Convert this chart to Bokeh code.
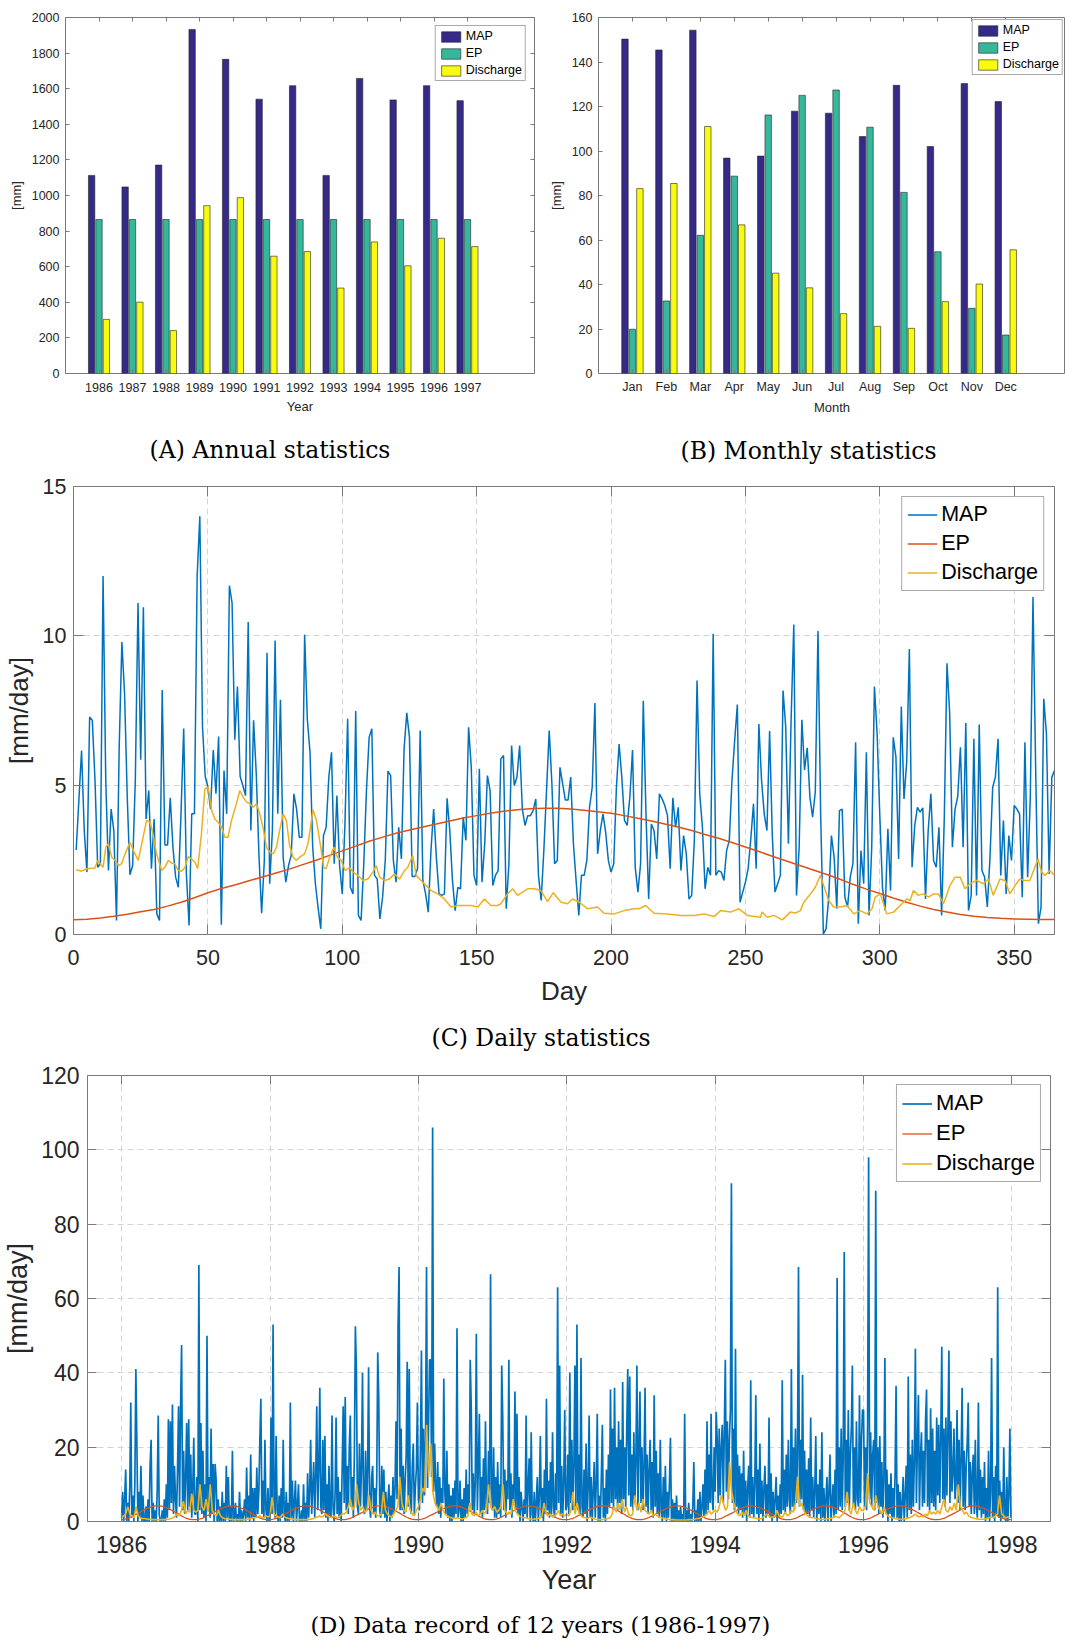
import numpy as np
from bokeh.plotting import figure
from bokeh.models import Range1d, FixedTicker, LinearAxis, Title, ColumnDataSource
from bokeh.layouts import column, row
from bokeh.transform import dodge
from bokeh.embed import file_html
from bokeh.resources import INLINE

# ---------------- Panel A : annual statistics ----------------
years = [1986, 1987, 1988, 1989, 1990, 1991, 1992, 1993, 1994, 1995, 1996, 1997]
annual_map = [1113, 1048, 1171, 1933, 1765, 1541, 1617, 1113, 1658, 1537, 1617, 1533]
annual_ep = [865, 865, 865, 865, 865, 865, 865, 865, 865, 865, 865, 865]
annual_dis = [304, 401, 241, 943, 988, 659, 685, 480, 739, 605, 760, 713]

# ---------------- Panel B : monthly statistics ----------------
months = ["Jan", "Feb", "Mar", "Apr", "May", "Jun", "Jul", "Aug", "Sep", "Oct", "Nov", "Dec"]
month_pos = [1, 2, 3, 4, 5, 6, 7, 8, 9, 10, 11, 12]
monthly_map = [150.3, 145.4, 154.3, 96.8, 97.7, 117.9, 117.0, 106.5, 129.5, 102.0, 130.3, 122.2]
monthly_ep = [19.9, 32.6, 62.1, 88.7, 116.2, 125.0, 127.4, 110.7, 81.4, 54.7, 29.3, 17.3]
monthly_dis = [83.1, 85.4, 111.0, 66.8, 45.1, 38.5, 26.9, 21.2, 20.3, 32.3, 40.2, 55.6]

# ---------------- Panel C : daily statistics ----------------
map_daily = [
    2.83, 4.5, 6.16, 3.48, 2.09, 7.28, 7.17, 5.16, 2.25, 2.37,
    12.0, 5.16, 2.14, 4.2, 3.48, 0.47, 6.27, 9.79, 8.06, 4.6,
    2.0, 2.31, 5.16, 11.1, 5.85, 10.96, 3.87, 4.82, 2.2, 3.87,
    0.69, 0.47, 8.19, 3.0, 3.0, 4.58, 2.92, 1.92, 1.58, 4.04,
    6.9, 2.03, 0.3, 4.04, 4.04, 12.0, 14.0, 6.94, 5.3, 4.93,
    4.2, 6.18, 4.71, 6.63, 0.33, 5.49, 4.04, 11.68, 11.1, 6.52,
    8.3, 5.3, 4.99, 4.65, 10.46, 3.48, 7.17, 5.38, 2.65, 0.71,
    2.48, 9.43, 1.7, 3.48, 9.84, 4.04, 7.86, 2.59, 1.75, 2.31,
    2.65, 4.71, 4.2, 3.26, 3.26, 10.04, 7.2, 6.1, 2.92, 1.7,
    0.9, 0.19, 3.31, 3.59, 5.27, 6.1, 2.37, 4.65, 2.31, 1.36,
    3.7, 7.22, 1.58, 1.36, 7.48, 0.64, 0.47, 2.37, 4.82, 6.6,
    6.89, 1.98, 1.86, 0.52, 1.25, 2.48, 5.47, 5.32, 2.48, 1.75,
    3.59, 2.53, 6.22, 7.42, 6.6, 1.94, 1.94, 2.2, 6.83, 1.81,
    1.36, 0.75, 2.81, 4.2, 2.59, 1.36, 1.31, 1.36, 4.56, 3.48,
    1.81, 0.8, 1.58, 1.53, 3.93, 3.15, 6.94, 5.6, 1.98, 1.64,
    5.55, 1.75, 3.04, 5.32, 4.82, 1.64, 1.98, 2.14, 5.88, 5.99,
    0.86, 2.37, 6.33, 4.99, 5.27, 6.33, 4.2, 3.65, 3.98, 3.98,
    4.15, 4.54, 1.98, 1.14, 2.81, 4.82, 6.83, 5.04, 2.37, 2.48,
    5.6, 5.04, 4.5, 4.5, 5.27, 3.04, 1.81, 0.64, 1.98, 1.98,
    2.48, 4.26, 4.93, 7.75, 2.7, 3.48, 4.04, 3.43, 2.48, 2.09,
    2.37, 4.93, 6.38, 5.27, 3.82, 3.65, 4.6, 6.18, 2.25, 1.42,
    2.37, 7.83, 4.04, 1.19, 3.7, 3.48, 2.53, 4.71, 4.54, 4.32,
    3.98, 2.2, 4.58, 3.59, 4.26, 2.14, 3.31, 2.7, 1.19, 1.31,
    3.15, 8.5, 4.71, 3.59, 1.53, 2.25, 1.98, 10.07, 1.98, 2.14,
    2.09, 1.81, 2.81, 3.15, 5.16, 6.5, 7.7, 1.08, 1.42, 1.75,
    2.2, 3.2, 4.38, 2.2, 7.05, 5.16, 4.04, 3.48, 6.81, 3.31,
    1.42, 1.7, 1.98, 8.17, 6.94, 3.04, 7.2, 10.38, 1.31, 2.92,
    7.19, 5.51, 6.25, 4.6, 3.93, 4.77, 10.16, 4.0, 0.02, 0.19,
    1.25, 3.31, 2.59, 0.86, 4.15, 4.2, 1.25, 0.92, 1.92, 2.37,
    6.44, 0.36, 2.81, 1.7, 6.1, 0.64, 2.92, 8.3, 6.72, 3.98,
    1.58, 0.8, 3.54, 1.47, 6.6, 5.94, 2.53, 7.63, 4.54, 5.77,
    9.56, 2.25, 3.65, 4.26, 4.1, 4.24, 1.19, 3.48, 4.71, 2.48,
    2.25, 3.59, 0.64, 3.93, 9.08, 7.39, 2.92, 4.2, 4.62, 6.27,
    2.92, 7.08, 0.8, 1.31, 6.55, 1.31, 7.03, 2.14, 1.92, 0.92,
    2.59, 4.93, 5.27, 6.55, 1.98, 3.82, 1.36, 3.31, 2.48, 4.32,
    4.2, 4.04, 1.25, 6.44, 1.92, 4.6, 11.3, 5.5, 0.36, 0.92,
    7.89, 6.72, 2.03, 5.27, 5.49,
]
ep_days = list(range(0, 366, 5))
ep_daily = [0.49, 0.51, 0.55, 0.61, 0.68, 0.76, 0.84, 0.95, 1.08, 1.23,
            1.4, 1.54, 1.66, 1.79, 1.92, 2.05, 2.18, 2.33, 2.48, 2.64,
            2.8, 2.96, 3.12, 3.26, 3.39, 3.5, 3.6, 3.7, 3.8, 3.9,
            3.98, 4.06, 4.13, 4.18, 4.21, 4.23, 4.23, 4.2, 4.16, 4.11,
            4.06, 3.98, 3.89, 3.8, 3.7, 3.6, 3.48, 3.35, 3.22, 3.08,
            2.93, 2.78, 2.62, 2.47, 2.32, 2.17, 2.02, 1.86, 1.68, 1.52,
            1.37, 1.22, 1.08, 0.95, 0.84, 0.75, 0.67, 0.61, 0.57, 0.54,
            0.52, 0.51, 0.5, 0.5]
dis_days = [1, 3, 5, 8, 9, 11, 12, 13, 14.2, 15.5, 16.7, 17.9, 19.2, 21, 22.3, 24.1, 25.4, 27.2, 28.5, 29.7,
            30.9, 32.8, 34, 35.3, 36.5, 37.7, 39, 40.2, 41.5, 42.7, 43.9, 45.2, 46.2, 47.6, 48.9, 50.1, 51.4,
            52.6, 53.8, 55.1, 56.3, 57.5, 58.8, 60.6, 61.9, 63.1, 64.4, 65.6, 66.8, 68.1, 69.3, 70.5, 71.8, 73,
            74.3, 75.5, 76.7, 78, 79.2, 80.4, 81.7, 82.9, 84.2, 86, 87.3, 89.1, 90.4, 92, 93.1, 94, 95.3, 96.9,
            98.2, 99.6, 101.1, 102.7, 104, 105.8, 107.7, 109.5, 111.4, 112.6, 113.9, 115.7, 117.6, 119.4, 121.3,
            123.2, 124.4, 126.2, 127.5, 129.3, 131.2, 133.1, 135.5, 138, 140.5, 143, 145.4, 147.9, 150.4, 152.9,
            155.3, 157.8, 159, 161.5, 163.4, 165.2, 167.1, 169, 171.4, 173.9, 176.4, 178.5, 181.4, 183.8, 185.7,
            188.2, 191.3, 195, 197.4, 201.2, 204.9, 208.6, 210.4, 212.9, 216, 221, 225.9, 230.9, 234.6, 238.3,
            240.8, 244.5, 247.6, 250.7, 255.6, 256.2, 258.1, 260.6, 263.7, 266.7, 268.6, 270.5, 271.7, 274.2,
            276, 277.9, 279.1, 281, 282.8, 285.3, 287.8, 290.3, 292.7, 295.2, 297.1, 298.3, 300.2, 302.6, 305.1,
            307.6, 310, 311.3, 312.5, 314.4, 316.2, 318.1, 320, 321.8, 323.7, 326.1, 328, 329.9, 331.7, 333.6,
            336, 338.5, 340.4, 342.2, 344.7, 346.6, 348.4, 350.3, 352.1, 354, 355.8, 357.7, 358.9, 360.2, 361.4,
            363.3, 365]
dis_daily = [2.17, 2.12, 2.2, 2.23, 2.48, 2.25, 2.92, 3.04, 2.59, 2.48, 2.31, 2.37, 2.7, 3.09, 2.81, 2.48, 3.04,
             3.82, 3.76, 3.31, 2.7, 2.14, 2.25, 2.48, 2.39, 2.37, 2.14, 2.12, 2.25, 2.61, 2.53, 2.42, 2.2, 3.37,
             4.88, 4.93, 4.15, 3.87, 3.76, 3.59, 3.26, 3.26, 3.82, 4.38, 4.82, 4.6, 4.43, 4.38, 4.26, 4.38, 4.04,
             3.59, 2.92, 2.76, 2.7, 2.92, 3.48, 4.04, 3.82, 2.98, 2.59, 2.48, 2.59, 2.7, 3.06, 4.18, 3.82, 2.92,
             2.25, 2.2, 2.59, 2.92, 2.59, 2.48, 2.14, 2.25, 2.09, 1.98, 1.81, 1.86, 2.09, 2.31, 1.92, 1.81, 1.86,
             2.03, 1.86, 2.14, 2.25, 2.65, 1.98, 1.81, 1.64, 1.47, 1.36, 1.19, 0.92, 0.97, 0.97, 0.97, 0.92, 1.19,
             0.97, 0.97, 1.03, 1.36, 1.53, 1.31, 1.42, 1.53, 1.53, 1.47, 1.1, 1.4, 1.08, 1.03, 1.19, 1.08, 0.86,
             0.92, 0.71, 0.69, 0.8, 0.86, 0.86, 0.97, 0.71, 0.69, 0.64, 0.64, 0.69, 0.6, 0.8, 0.75, 0.86, 0.64,
             0.58, 0.75, 0.58, 0.64, 0.49, 0.75, 0.72, 0.8, 1.08, 1.36, 1.58, 1.98, 1.64, 1.14, 0.92, 0.92, 0.97,
             0.69, 0.8, 0.69, 0.86, 1.25, 1.36, 0.69, 0.75, 0.97, 1.19, 1.14, 1.47, 1.31, 1.36, 1.25, 1.36, 1.36,
             1.03, 1.64, 1.92, 1.92, 1.53, 1.7, 1.81, 1.7, 1.86, 1.31, 1.86, 1.81, 1.36, 1.64, 1.86, 1.81, 1.81,
             2.25, 2.53, 2.09, 1.98, 2.14, 1.98]

# ---------------- Panel D : 12-year record (5-day MAP, 10-day discharge) ----------------
map_1986 = [1, 8, 0, 6, 14, 0, 5, 0, 9, 32, 1, 7, 0, 10, 41, 21, 0, 8, 1, 15, 0, 7, 0, 0, 4, 0, 6, 0, 15, 22,
            0, 5, 0, 3, 0, 8, 28.5, 2, 0, 0, 3, 0, 6, 0, 10, 1, 27.5, 3, 27, 5, 31.5, 2, 15, 6, 1, 14, 31, 4,
            31, 47.5, 3, 19, 2, 12, 26.5, 3, 27.5, 4, 18, 1, 9, 22.5, 2]
map_1987 = [2, 12, 0, 69, 3, 26.5, 2, 19, 1, 10, 0, 50, 3, 12, 1, 25, 2, 15.5, 0, 15.5, 11, 0, 6, 0, 4, 0, 8,
            0, 5, 0, 15, 1, 12, 0, 4, 0, 19, 0, 1, 5, 0, 2, 0, 8, 0, 3, 0, 2, 6, 0, 14.5, 1, 7, 0, 18, 1, 9, 0,
            9, 1, 14.5, 2, 8, 22, 33, 2, 11, 1, 22, 3, 0, 9, 0]
map_1988 = [3, 28, 2, 53, 5, 1, 23, 3, 0, 7, 0, 9, 1, 22, 2, 0, 8, 0, 5, 0, 32, 1, 11, 0, 5, 11, 0, 4, 10, 0,
            0, 3, 0, 10, 0, 5, 0, 13, 1, 8, 22, 2, 9, 16, 1, 12, 31, 3, 14, 36, 4, 2, 22, 3, 23, 1, 10, 0, 15,
            2, 1, 28.5, 4, 0, 7, 28, 2, 12, 1, 8, 0, 14, 31]
map_1989 = [5, 33.5, 3, 15, 2, 20, 28.5, 4, 12, 1, 18, 52.5, 41, 4, 2, 21, 4, 14, 40, 5, 2, 19, 3, 13, 41.5,
            4, 1, 12, 15, 2, 9, 1, 11, 45.5, 33, 3, 1, 15, 2, 14, 1, 8, 0, 5, 10, 0, 7, 1, 12, 2, 9, 27, 6,
            52.5, 68.5, 3, 25, 3, 15, 2, 11, 18, 43, 4, 41, 6, 2, 15, 21, 2, 9, 14, 32]
map_1990 = [6, 3, 20, 46, 5, 25, 7, 22, 68.5, 9, 26, 43.5, 43.5, 12, 106, 8, 21, 10, 4, 16, 2, 12, 1, 9,
            5, 38.5, 8, 2, 19, 1, 10, 0, 7, 0, 9, 1, 11, 2, 52, 1, 3, 11, 0, 6, 0, 9, 1, 14, 2, 10, 4, 43.5,
            31, 3, 13, 2, 11, 50.5, 3, 15, 29, 2, 12, 1, 17, 3, 27, 4, 2, 19, 5, 66.5, 9]
map_1991 = [3, 20, 1, 12, 1, 16, 2, 10, 1, 42, 28, 3, 14, 1, 11, 6, 43.5, 3, 13, 1, 10, 5, 35, 3, 29, 2, 12,
            0, 8, 4, 0, 6, 2, 28.5, 1, 9, 17, 0, 24, 2, 0, 8, 0, 5, 12, 0, 7, 23, 1, 9, 0, 14, 2, 33, 3, 11,
            1, 16, 2, 24, 4, 1, 13, 3, 63, 5, 42, 2, 15, 1, 10, 30, 3]
map_1992 = [4, 18, 2, 40, 5, 22, 3, 15, 42, 4, 53, 3, 18, 2, 44, 4, 1, 14, 2, 21, 0, 9, 28.5, 1, 12, 0, 8,
            16, 1, 10, 29, 0, 7, 0, 12, 26, 1, 9, 0, 14, 2, 18, 4, 35.5, 5, 25, 3, 36, 6, 20, 3, 27, 5, 22,
            2, 37.5, 6, 20, 4, 25, 41, 7, 39, 4, 18, 3, 24, 5, 16, 42, 3, 20, 35]
map_1993 = [5, 20, 3, 15, 36, 4, 18, 2, 14, 22, 3, 16, 1, 34, 4, 19, 2, 13, 1, 22, 3, 0, 12, 1, 15, 0, 8, 1,
            10, 22.5, 0, 6, 0, 5, 0, 7, 0, 3, 0, 4, 0, 2, 0, 29, 0, 3, 0, 5, 0, 2, 0, 4, 16, 0, 3, 0, 6, 0, 8,
            0, 4, 10, 1, 14, 2, 27, 3, 18, 5, 29, 6, 3, 20]
map_1994 = [8, 29.5, 22, 5, 25, 7, 20, 26, 5, 24, 43.5, 8, 27, 6, 22, 30, 91, 5, 25, 3, 46.5, 4, 18, 2,
            15, 3, 13, 1, 19, 2, 11, 0, 9, 15, 1, 38, 2, 12, 1, 10, 34, 2, 14, 0, 21, 2, 11, 0, 9, 15, 1, 10,
            2, 28, 1, 13, 0, 8, 1, 6, 12, 0, 7, 1, 10, 2, 38, 3, 14, 2, 18, 4, 22]
map_1995 = [6, 2, 41, 4, 20, 3, 25, 5, 18, 68.5, 4, 22, 6, 39.5, 3, 19, 2, 14, 2, 17, 1, 28, 3, 12, 1, 8,
            23, 0, 10, 2, 14, 0, 24, 1, 9, 0, 6, 12, 0, 8, 18, 0, 5, 10, 1, 14, 2, 65.5, 3, 20, 4, 25, 3, 17,
            72.5, 4, 22, 5, 30, 3, 18, 25, 42, 4, 20, 3, 27, 6, 4, 34, 5, 22, 30]
map_1996 = [30, 4, 20, 3, 26, 98, 6, 24, 4, 18, 22, 3, 89, 5, 20, 2, 23, 4, 16, 1, 11, 44, 2, 14, 0, 10, 2,
            13, 0, 9, 1, 12, 36.5, 1, 10, 0, 8, 0, 5, 12, 0, 7, 15, 1, 39, 3, 18, 2, 22, 4, 16, 46.5, 5, 20,
            34, 3, 17, 24, 4, 19, 5, 27, 35.5, 4, 22, 3, 30.5, 5, 25, 4, 19, 3, 28]
map_1997 = [7, 26, 5, 22, 47, 6, 25, 4, 28, 7, 24, 46, 5, 27, 8, 13, 25, 6, 10, 30, 5, 22, 3, 17, 36,
            4, 19, 3, 15, 21, 32, 4, 16, 2, 13, 18, 2, 22, 4, 1, 32, 3, 14, 1, 12, 2, 16, 0, 9, 1, 19, 0, 8,
            44, 1, 12, 0, 15, 2, 63, 1, 11, 0, 8, 1, 20, 2, 0, 12, 0, 7, 25, 1]

dis_1986 = [1, 1.5, 2, 4, 2, 1.5, 1, 4, 1.5, 1, 0.8, 0.8, 0.7, 0.6, 0.6, 0.5, 0.5, 0.5, 0.5, 0.5, 0.5, 0.5, 0.6,
            0.6, 0.8, 1, 1.5, 2, 1.5, 3, 5.5, 2, 3, 2.5, 7.5, 3]
dis_1987 = [2.5, 3, 10, 4, 3, 6, 2.5, 10, 3, 2, 1.5, 3, 1.5, 1, 0.8, 0.7, 0.6, 0.6, 0.5, 0.5, 0.5, 0.5, 0.5, 0.5,
            0.5, 0.6, 0.7, 0.8, 1, 1, 1.2, 1.5, 1.2, 1, 1.5, 1.2]
dis_1988 = [1.5, 6.5, 2, 1.5, 1.2, 1, 2, 1.2, 1, 0.8, 0.7, 0.6, 0.6, 0.5, 0.5, 0.5, 0.5, 0.5, 0.5, 0.6, 0.6, 0.8,
            1, 1.2, 1.5, 1.2, 1.5, 2, 1.5, 1.2, 1, 1.5, 1.2, 1, 1.5, 2]
dis_1989 = [2, 2.5, 4, 6, 3, 4, 10, 5, 3, 4, 2.5, 3, 7, 3, 2, 2.5, 1.5, 1.5, 2, 8, 3, 2, 1.5, 1.2, 2, 3, 4, 12, 5,
            3, 2.5, 7, 3, 2, 1.5, 3]
dis_1990 = [4, 6, 9, 8, 26, 12, 21, 8, 5, 4, 3, 5, 3, 2, 1.5, 1.2, 1, 0.8, 0.8, 1, 0.8, 0.7, 0.8, 1, 1.5, 5, 2,
            1.5, 2.5, 1.5, 2, 3, 2, 3, 10, 4]
dis_1991 = [3, 4, 2.5, 3, 4, 10, 3, 2, 2.5, 2, 6, 3, 2, 1.5, 1.2, 1, 1, 0.8, 0.7, 0.6, 0.6, 0.7, 0.8, 1, 1.5, 5,
            2, 1.5, 2, 1.2, 1.5, 2, 3, 1.5, 2, 1.5]
dis_1992 = [2, 1.5, 3, 8, 2, 5, 2, 1.5, 1.2, 1, 0.8, 1.2, 1, 0.8, 0.6, 0.5, 0.5, 0.5, 0.6, 0.6, 0.8, 1, 2, 4, 2.5,
            5, 3, 6, 2.5, 4, 2, 1.5, 2, 7, 3, 5]
dis_1993 = [2.5, 6, 3, 2.5, 2, 3, 1.5, 2, 1.5, 1.2, 1, 0.8, 0.7, 0.6, 0.5, 0.5, 0.5, 0.4, 0.4, 0.4, 0.4, 0.4,
            0.4, 0.5, 0.5, 0.5, 0.6, 0.8, 0.8, 1, 1.2, 1.5, 2, 3, 2, 2.5]
dis_1994 = [3, 2.5, 4, 7, 5, 3, 4, 16, 8, 5, 3, 2, 1.5, 2.5, 1.5, 3, 1.5, 1.2, 1, 1, 0.8, 0.7, 0.8, 1, 1.5, 2,
            1.5, 1, 1.2, 1.5, 3, 1.5, 1.2, 1.5, 2.5, 1.5]
dis_1995 = [2, 3, 2.5, 5, 12, 4, 5, 3, 2, 1.5, 1.2, 1, 1, 0.8, 0.7, 0.6, 0.6, 0.6, 0.7, 0.8, 0.8, 1, 1.5, 1.2, 1,
            1.5, 2, 3, 8, 3, 2, 5, 3, 2, 4, 3]
dis_1996 = [3, 4, 13, 5, 4, 3, 7, 4, 3, 2, 4, 2, 1.5, 1.2, 1, 0.8, 0.7, 0.6, 0.6, 0.6, 0.7, 0.8, 1, 1.2, 1.5, 2,
            1.5, 1.2, 1.5, 1.2, 2, 1.5, 3, 2, 2.5, 2]
dis_1997 = [3, 2, 4, 6, 3, 2.5, 4, 3, 5, 3, 10, 4, 3, 2, 2.5, 1.5, 1.2, 1, 0.8, 0.7, 0.6, 0.6, 0.6, 0.7, 0.8, 1,
            1.2, 1, 1.5, 2, 7, 2, 1.5, 1, 1.2, 1]

# ---------------- styling ----------------
C_MAP_BAR, C_EP_BAR, C_DIS_BAR = "#352A87", "#35B79B", "#F9FB0E"
C_MAP, C_EP, C_DIS = "#0072BD", "#D95319", "#EDB120"
FRAME = "#7a7a7a"
TXT = "#262626"
SANS = "Liberation Sans"
SERIF = "DejaVu Serif"


def style_axis(ax, size, tick_in, standoff):
    ax.axis_line_color = None
    ax.major_tick_in = tick_in
    ax.major_tick_out = 0
    ax.minor_tick_line_color = None
    ax.major_tick_line_color = FRAME
    ax.major_label_text_font = SANS
    ax.major_label_text_font_size = f"{size}px"
    ax.major_label_text_color = TXT
    ax.major_label_standoff = int(standoff)


def style_label(ax, text, size, standoff):
    ax.axis_label = text
    ax.axis_label_text_font = SANS
    ax.axis_label_text_font_size = f"{size}px"
    ax.axis_label_text_font_style = "normal"
    ax.axis_label_text_color = TXT
    ax.axis_label_standoff = int(standoff)


def mirror(p, side, ticks, tick_in):
    ax = LinearAxis(ticker=FixedTicker(ticks=ticks))
    ax.axis_line_color = None
    ax.major_tick_in = tick_in
    ax.major_tick_out = 0
    ax.minor_tick_line_color = None
    ax.major_tick_line_color = FRAME
    ax.major_label_text_font_size = "1px"
    ax.major_label_text_color = None
    ax.major_label_standoff = 0
    p.add_layout(ax, side)


def caption(p, text, offset, gap, anchor, size=23.5):
    # spacer axis: one white (invisible) outward tick that opens a gap under the x-axis label
    sp = LinearAxis(ticker=FixedTicker(ticks=[anchor]))
    sp.axis_line_color = None
    sp.major_tick_in = 0
    sp.major_tick_out = int(gap)
    sp.minor_tick_line_color = None
    sp.major_tick_line_color = "white"
    sp.major_label_text_font_size = "1px"
    sp.major_label_text_color = None
    sp.major_label_standoff = 0
    p.add_layout(sp, "below")
    t = Title(text=text, align="left", offset=offset, standoff=0,
              text_font=SERIF, text_font_size=f"{size}px", text_font_style="normal",
              text_color="#000000")
    p.add_layout(t, "below")


def base(p):
    p.outline_line_color = FRAME
    p.outline_line_width = 1
    p.background_fill_color = "white"
    p.border_fill_color = "white"


def bar_legend(p, margin):
    lg = p.legend[0]
    lg.location = "top_right"
    lg.margin = margin
    lg.padding = 3
    lg.spacing = 3
    lg.glyph_width = 24
    lg.glyph_height = 13
    lg.label_height = 13
    lg.label_standoff = 3
    lg.label_text_font = SANS
    lg.label_text_font_size = "12.5px"
    lg.label_text_color = "#000000"
    lg.border_line_color = "#555555"
    lg.border_line_width = 1
    lg.background_fill_alpha = 1


def line_legend(p, size, margin):
    lg = p.legend[0]
    lg.location = "top_right"
    lg.margin = margin
    lg.padding = 5
    lg.spacing = 4
    lg.glyph_width = 30
    lg.glyph_height = 25
    lg.label_height = 25
    lg.label_standoff = 4
    lg.label_text_font = SANS
    lg.label_text_font_size = f"{size}px"
    lg.label_text_color = "#000000"
    lg.border_line_color = "#555555"
    lg.border_line_width = 1
    lg.background_fill_alpha = 1


# ---------------- Figure A ----------------
srcA = ColumnDataSource(dict(x=years, MAP=annual_map, EP=annual_ep, DIS=annual_dis))
pA = figure(width=545, height=470, x_range=Range1d(1985, 1999), y_range=Range1d(0, 2000),
            output_backend="svg", toolbar_location=None,
            min_border_left=65, min_border_right=11, min_border_top=17, min_border_bottom=97)
base(pA)
for key, off, col, lab in [("MAP", -0.22, C_MAP_BAR, "MAP"), ("EP", 0.0, C_EP_BAR, "EP"),
                           ("DIS", 0.22, C_DIS_BAR, "Discharge")]:
    pA.vbar(x=dodge("x", off, range=pA.x_range), top=key, width=0.19, source=srcA,
            fill_color=col, line_color="#222222", line_width=0.6, legend_label=lab)
pA.grid.visible = False
pA.xaxis.ticker = FixedTicker(ticks=years)
pA.yaxis.ticker = FixedTicker(ticks=list(range(0, 2001, 200)))
style_axis(pA.xaxis[0], 12.5, 4, 9)
style_axis(pA.yaxis[0], 12.5, 4, 6)
style_label(pA.xaxis[0], "Year", 13, 4)
style_label(pA.yaxis[0], "[mm]", 13, 5)
mirror(pA, "above", years, 4)
mirror(pA, "right", list(range(0, 2001, 200)), 4)
bar_legend(pA, 8)
caption(pA, "(A) Annual statistics", 84, 17, 1985)

# ---------------- Figure B ----------------
srcB = ColumnDataSource(dict(x=month_pos, MAP=monthly_map, EP=monthly_ep, DIS=monthly_dis))
pB = figure(width=520, height=470, x_range=Range1d(0, 13.76), y_range=Range1d(0, 160),
            output_backend="svg", toolbar_location=None,
            min_border_left=52, min_border_right=0, min_border_top=17, min_border_bottom=97)
base(pB)
for key, off, col, lab in [("MAP", -0.22, C_MAP_BAR, "MAP"), ("EP", 0.0, C_EP_BAR, "EP"),
                           ("DIS", 0.22, C_DIS_BAR, "Discharge")]:
    pB.vbar(x=dodge("x", off, range=pB.x_range), top=key, width=0.19, source=srcB,
            fill_color=col, line_color="#222222", line_width=0.6, legend_label=lab)
pB.grid.visible = False
pB.xaxis.ticker = FixedTicker(ticks=month_pos)
pB.xaxis.major_label_overrides = {m: n for m, n in zip(month_pos, months)}
pB.yaxis.ticker = FixedTicker(ticks=list(range(0, 161, 20)))
style_axis(pB.xaxis[0], 12.5, 4, 6)
style_axis(pB.yaxis[0], 12.5, 4, 6)
style_label(pB.xaxis[0], "Month", 13, 3)
style_label(pB.yaxis[0], "[mm]", 13, 5)
mirror(pB, "above", month_pos, 4)
bar_legend(pB, 2)
caption(pB, "(B) Monthly statistics", 82, 17, 0)

# ---------------- Figure C ----------------
pC = figure(width=1065, height=590, x_range=Range1d(0, 365), y_range=Range1d(0, 15),
            output_backend="svg", toolbar_location=None,
            min_border_left=71, min_border_right=11, min_border_top=16, min_border_bottom=126)
base(pC)
days = list(range(1, len(map_daily) + 1))
pC.line(days, map_daily, line_color=C_MAP, line_width=1.5, legend_label="MAP")
pC.line(ep_days, ep_daily, line_color=C_EP, line_width=1.5, legend_label="EP")
pC.line(dis_days, dis_daily, line_color=C_DIS, line_width=1.5, legend_label="Discharge")
xtC = list(range(0, 351, 50))
ytC = [0, 5, 10, 15]
pC.xaxis.ticker = FixedTicker(ticks=xtC)
pC.yaxis.ticker = FixedTicker(ticks=ytC)
for g in (pC.xgrid[0], pC.ygrid[0]):
    g.grid_line_color = "#d4d4d4"
    g.grid_line_dash = "6 4"
    g.grid_line_width = 1
style_axis(pC.xaxis[0], 21.5, 10, 15)
style_axis(pC.yaxis[0], 21.5, 10, 7)
style_label(pC.xaxis[0], "Day", 26, 8)
style_label(pC.yaxis[0], "[mm/day]", 26, 6)
mirror(pC, "above", xtC, 10)
mirror(pC, "right", ytC, 10)
line_legend(pC, 21.5, 10)
caption(pC, "(C) Daily statistics", 358, 13, 0)

# ---------------- Figure D ----------------
map_years = [map_1986, map_1987, map_1988, map_1989, map_1990, map_1991,
             map_1992, map_1993, map_1994, map_1995, map_1996, map_1997]
dis_years = [dis_1986, dis_1987, dis_1988, dis_1989, dis_1990, dis_1991,
             dis_1992, dis_1993, dis_1994, dis_1995, dis_1996, dis_1997]
xm, ym, xd, yd, xe, ye = [], [], [], [], [], []
for y0, vals in zip(years, map_years):
    n = len(vals)
    xm += [y0 + k / n for k in range(n)]
    ym += vals
for y0, vals in zip(years, dis_years):
    n = len(vals)
    xd += [y0 + k / n for k in range(n)]
    yd += vals
for y0 in years:
    xe += [y0 + d / 365.0 for d in ep_days[:-1]]
    ye += ep_daily[:-1]

pD = figure(width=1065, height=582, x_range=Range1d(1985.54, 1998.52), y_range=Range1d(0, 120),
            output_backend="svg", toolbar_location=None,
            min_border_left=86, min_border_right=15, min_border_top=15, min_border_bottom=121)
base(pD)
pD.line(xm, ym, line_color=C_MAP, line_width=1.7, legend_label="MAP")
pD.line(xe, ye, line_color=C_EP, line_width=1.3, legend_label="EP")
pD.line(xd, yd, line_color=C_DIS, line_width=1.6, legend_label="Discharge")
xtD = list(range(1986, 1999, 2))
ytD = list(range(0, 121, 20))
pD.xaxis.ticker = FixedTicker(ticks=xtD)
pD.yaxis.ticker = FixedTicker(ticks=ytD)
for g in (pD.xgrid[0], pD.ygrid[0]):
    g.grid_line_color = "#d4d4d4"
    g.grid_line_dash = "6 4"
    g.grid_line_width = 1
style_axis(pD.xaxis[0], 23, 9, 14)
style_axis(pD.yaxis[0], 23, 9, 8)
style_label(pD.xaxis[0], "Year", 27, 9)
style_label(pD.yaxis[0], "[mm/day]", 27, 5)
mirror(pD, "above", xtD, 9)
mirror(pD, "right", ytD, 9)
line_legend(pD, 22, 9)
caption(pD, "(D) Data record of 12 years (1986-1997)", 223, 12, 1986, 22.5)

layout = column(row(pA, pB), row(pC), row(pD))
open("out.html", "w").write(file_html(layout, INLINE))
